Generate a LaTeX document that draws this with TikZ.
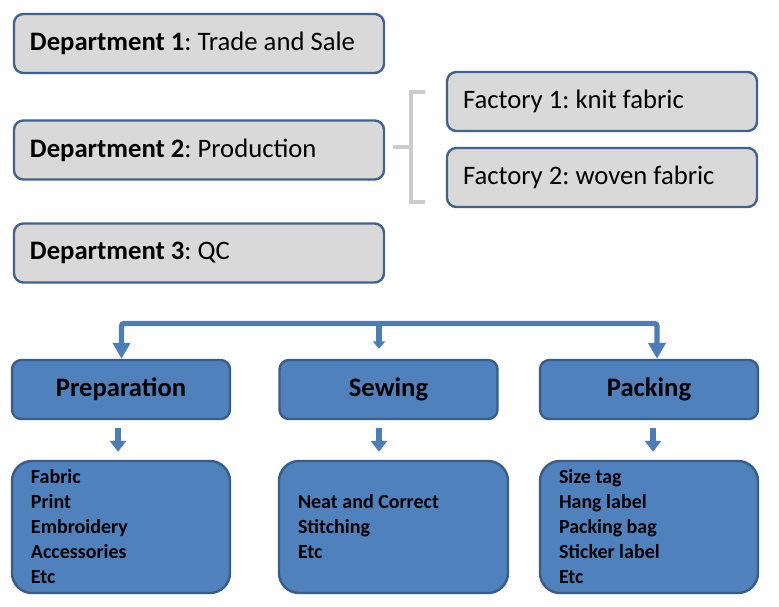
\documentclass[tikz,border=0pt]{standalone}
\usepackage{fontspec}
\setmainfont{Carlito}
\usetikzlibrary{arrows.meta}
\definecolor{boxgray}{HTML}{D9D9D9}
\definecolor{edgeblue}{HTML}{41628A}
\definecolor{fillblue}{HTML}{4F81BD}
\definecolor{darkblue}{HTML}{385D8A}
\definecolor{arrowblue}{HTML}{4A7DBA}
\definecolor{bracegray}{HTML}{CCCCCC}
\tikzset{
  dept/.style={draw=edgeblue, line width=1.8pt, fill=boxgray, rounded corners=7pt,
    minimum height=44.25pt, inner xsep=12pt, text width=253.5pt, align=flush left,
    font=\fontsize{20}{24}\selectfont},
  factory/.style={dept, text width=208.5pt},
  stage/.style={draw=darkblue, line width=1.8pt, fill=fillblue, rounded corners=7pt,
    minimum width=163.5pt, minimum height=44.25pt,
    font=\fontsize{20}{24}\selectfont\bfseries},
  tasks/.style={draw=darkblue, line width=1.8pt, fill=fillblue, rounded corners=15pt,
    minimum height=99pt, inner xsep=14.25pt, text width=135pt, align=flush left,
    font=\fontsize{15}{18.75}\selectfont\bfseries},
  bracket/.style={draw=bracegray, line width=3pt},
  bigarrow/.style={draw=arrowblue, line width=4pt, rounded corners=2pt,
    {Triangle[width=12.75pt,length=12pt]}-{Triangle[width=12.75pt,length=12pt]}},
  smallarrow/.style={draw=arrowblue, line width=4.5pt,
    -{Triangle[width=12pt,length=8.25pt]}}
}
\frenchspacing
\begin{document}
\begin{tikzpicture}[x=0.75pt,y=-0.75pt,every node/.style={text=black}]
    \useasboundingbox (0,0) rectangle (779,607);
    \node[dept] (dep1) at (199,43.5) {\textbf{Department 1}: Trade and Sale};
    \node[dept] (dep2) at (199,150) {\textbf{Department 2}: Production};
    \node[dept] (dep3) at (199,253) {\textbf{Department 3}: QC};
    \node[factory] (fac1) at (602,101.5) {Factory 1: knit fabric};
    \node[factory] (fac2) at (602,177.5) {Factory 2: woven fabric};
    \coordinate (brtop) at (425,92);
    \coordinate (brbot) at (425,202);
    \coordinate (brtip) at (393,147);
    \draw[bracket] (brtop) -- (411,92) -- (411,202) -- (brbot);
    \draw[bracket] (411,147) -- (brtip);
    \node[stage] (prep) at (121,389.5) {Preparation};
    \node[stage] (sew) at (388.5,389.5) {Sewing};
    \node[stage] (pack) at (649,389.5) {Packing};
    \node[tasks] (preplist) at (121,527) {Fabric\\Print\\Embroidery\\Accessories\\Etc};
    \node[tasks, text width=143.25pt] (sewlist) at (393.5,527) {Neat and Correct\\Stitching\\Etc};
    \node[tasks] (packlist) at (649,527) {Size tag\\Hang label\\Packing bag\\Sticker label\\Etc};
    \coordinate (busL) at (121.5,323.5);
    \coordinate (busM) at (379,323.5);
    \coordinate (busR) at (657,323.5);
    \draw[bigarrow] (busL |- prep.north) -- (busL) -- (busR) -- (busR |- pack.north);
    \draw[smallarrow, -{Triangle[width=9pt,length=5.5pt]}, shorten >=7.5pt] (busM) -- (busM |- sew.north);
    \draw[smallarrow, shorten <=6pt, shorten >=6pt] ([xshift=-2.25pt]prep.south) -- ([xshift=-2.25pt]prep.south |- preplist.north);
    \draw[smallarrow, shorten <=6pt, shorten >=6pt] (busM |- sew.south) -- (busM |- sewlist.north);
    \draw[smallarrow, shorten <=6pt, shorten >=6pt] ([xshift=3pt]pack.south) -- ([xshift=3pt]pack.south |- packlist.north);
  \end{tikzpicture}
\end{document}
